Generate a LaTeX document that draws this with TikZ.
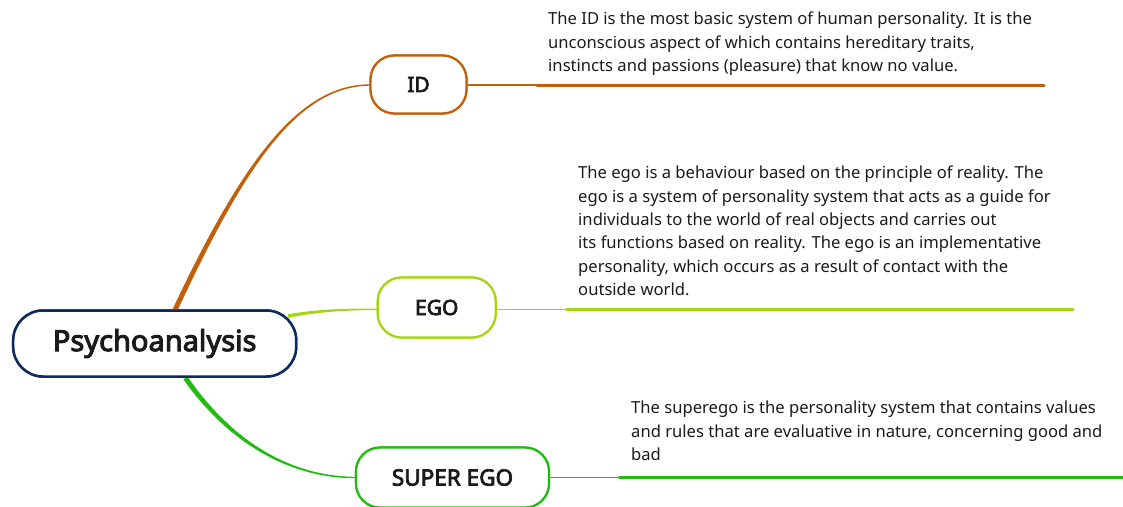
\documentclass[tikz,border=0pt]{standalone}
\usepackage{fontspec}
\setmainfont{Noto Sans}[AutoFakeBold=3.4]
\usetikzlibrary{calc}
\definecolor{idc}{HTML}{C2600A}
\definecolor{egoc}{HTML}{A6D60F}
\definecolor{supc}{HTML}{22BB11}
\definecolor{navy}{HTML}{0F2A5F}
\definecolor{txt}{HTML}{1A1A1A}
\tikzset{
  rootbox/.style={draw=navy, line width=2.5pt, fill=white, rounded corners=30pt,
    minimum width=283pt, minimum height=66pt, inner sep=0pt, text=txt,
    font=\fontsize{29}{32}\selectfont\bfseries},
  subbox/.style={draw=#1, line width=2.2pt, fill=white, rounded corners=24pt,
    minimum height=58pt, inner sep=0pt, text=txt,
    font=\fontsize{21}{24}\selectfont\bfseries},
  desc/.style={anchor=base west, align=left, inner sep=0pt, text=txt,
    font=\fontsize{16.6}{23.4}\selectfont},
  thinl/.style={draw=#1, line width=1.1pt},
  thickl/.style={draw=#1, line width=3pt, line cap=round},
}
\begin{document}
\begin{tikzpicture}[x=1pt,y=-1pt]
\useasboundingbox (0,0) rectangle (1123,506);
\clip (0,0) rectangle (1123,506);

% node placement
\node[rootbox] (root) at (154.7,343.5) {Psychoanalysis};
\node[subbox=idc, minimum width=96pt] (id) at (418.5,84.5) {ID};
\node[subbox=egoc, minimum width=118pt, minimum height=60pt] (ego) at (436.7,307.5) {EGO};
\node[subbox=supc, minimum width=193pt, minimum height=60pt, font=\fontsize{22.5}{24}\selectfont\bfseries] (sup) at (452.5,477.5) {SUPER EGO};

% end points of underlines
\coordinate (idA) at ($(id.east)+(0,0.5)$);
\coordinate (idB) at (537,85);
\coordinate (idC) at (1044,85);
\coordinate (egoA) at ($(ego.east)+(0,1.8)$);
\coordinate (egoB) at (566,309.3);
\coordinate (egoC) at (1073,309.3);
\coordinate (supA) at ($(sup.east)+(0,0.2)$);
\coordinate (supB) at (619,477.7);
\coordinate (supC) at (1130,477.7);

% connectors (tapered)
\fill[idc] (177.27,311.06) .. controls (246.81,160.85) and (300,86) .. ($(id.west)+(1,1.2)$)
  -- ($(id.west)+(1,-0.2)$) .. controls (300,84) and (243.19,159.15) .. (172.73,308.94) -- cycle;
\fill[egoc] (288,314.2) .. controls (318,309.1) and (345,308.4) .. ($(ego.west)+(1,1.1)$)
  -- ($(ego.west)+(1,2.5)$) .. controls (345,310.2) and (318,311.9) .. (288,317.8) -- cycle;
\fill[supc] (187.55,376.57) .. controls (231.64,440.86) and (290,476.5) .. ($(sup.west)+(1,-0.7)$)
  -- ($(sup.west)+(1,0.7)$) .. controls (290,478.5) and (228.36,443.14) .. (183.45,379.43) -- cycle;

% redraw nodes on top
\node[rootbox] at (root) {Psychoanalysis};
\node[subbox=idc, minimum width=96pt] at (id) {ID};
\node[subbox=egoc, minimum width=118pt, minimum height=60pt] at (ego) {EGO};
\node[subbox=supc, minimum width=193pt, minimum height=60pt, font=\fontsize{22.5}{24}\selectfont\bfseries] at (sup) {SUPER EGO};

% underlines
\draw[thinl=idc] (idA) -- (idB);
\draw[thickl=idc] (idB) -- (idC);
\draw[thinl=egoc] (egoA) -- (egoB);
\draw[thickl=egoc] (egoB) -- (egoC);
\draw[thinl=supc] (supA) -- (supB);
\draw[thickl=supc] (supB) -- (supC);

% descriptions (anchored at the baseline of their last line)
\node[desc] (idt) at (548,71.6) {The ID is the most basic system of human personality. It is the\\unconscious aspect of which contains hereditary traits,\\instincts and passions (pleasure) that know no value.};
\node[desc] (egot) at (578,295.6) {The ego is a behaviour based on the principle of reality. The\\ego is a system of personality system that acts as a guide for\\individuals to the world of real objects and carries out\\its functions based on reality. The ego is an implementative\\personality, which occurs as a result of contact with the\\outside world.};
\node[desc] (supt) at (631,460.5) {The superego is the personality system that contains values\\and rules that are evaluative in nature, concerning good and\\bad};
\end{tikzpicture}
\end{document}
